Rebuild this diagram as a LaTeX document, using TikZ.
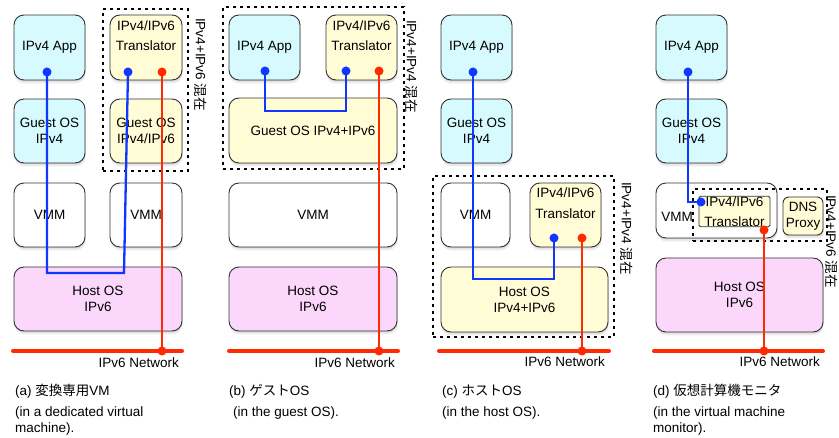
\documentclass[tikz,border=0pt]{standalone}
\usepackage{fontspec}
\setmainfont{Liberation Sans}
\newfontfamily\jp{Noto Sans CJK JP}
\usetikzlibrary{shadows}
\definecolor{cyanF}{RGB}{214,250,254}
\definecolor{yelF}{RGB}{255,252,214}
\definecolor{pinkF}{RGB}{251,215,251}
\definecolor{bl}{RGB}{17,55,255}
\definecolor{rd}{RGB}{255,42,0}
\newcommand\fs{\fontsize{13.5}{16}\selectfont}
\newcommand\fst{\fontsize{13.5}{20.5}\selectfont}
\tikzset{
  box/.style={draw=black!80, line width=0.9pt, rounded corners=10pt, align=center, inner sep=0pt, font=\fs,
    drop shadow={shadow xshift=0.5pt, shadow yshift=-3.5pt, opacity=0.15},
    drop shadow={shadow xshift=0.5pt, shadow yshift=-1.5pt, opacity=0.2}},
  cbox/.style={box, fill=cyanF},
  ybox/.style={box, fill=yelF},
  pbox/.style={box, fill=pinkF},
  wbox/.style={box, fill=white},
  trbox/.style={ybox, font=\fst},
  dashbox/.style={draw=black, line width=2pt, dash pattern=on 3pt off 4pt, inner sep=0pt},
  mixlbl/.style={rotate=-90, anchor=west, font=\fs, inner sep=0pt},
  blline/.style={draw=bl, line width=2.3pt},
  rdline/.style={draw=rd, line width=2.3pt},
  net/.style={draw=rd, line width=4pt, line cap=round},
  nettxt/.style={anchor=base east, font=\fs, inner sep=0pt},
  captxt/.style={anchor=base west, font=\fs, inner sep=0pt},
}
\begin{document}
\begin{tikzpicture}[x=1pt,y=-1pt]
\useasboundingbox (0,0) rectangle (839,438);
\fill[white] (0,0) rectangle (839,438);

% ---------- (a)
\node[cbox, minimum width=71pt, minimum height=65pt] (a-app) at (49.5,47.5) {IPv4 App};
\node[trbox, minimum width=72pt, minimum height=65pt] (a-tr) at (146,47.5) {IPv4/IPv6\\Translator\\[3pt]};
\node[cbox, minimum width=71pt, minimum height=64pt] (a-gos) at (49.5,131) {Guest OS\\IPv4};
\node[ybox, minimum width=72pt, minimum height=64pt] (a-gos2) at (146,131) {Guest OS\\IPv4/IPv6};
\node[wbox, minimum width=71pt, minimum height=64pt] (a-vmm1) at (49.5,215) {VMM};
\node[wbox, minimum width=72pt, minimum height=64pt] (a-vmm2) at (146,215) {VMM};
\node[pbox, minimum width=168pt, minimum height=64pt] (a-host) at (98,299) {Host OS\\IPv6};
\node[dashbox, minimum width=85pt, minimum height=162pt] (a-mix) at (145.5,90) {};
\node[mixlbl] (a-mixl) at (201,18) {IPv4+IPv6 {\jp 混在}};
\coordinate (a-n1) at (13,351);
\coordinate (a-n2) at (182,351);
\coordinate (a-appdot) at (47,72);
\coordinate (a-tbdot) at (128,72);
\coordinate (a-trdot) at (162,72);
\coordinate (a-ndot) at (162,351);
\coordinate (a-b1) at (47,273);
\coordinate (a-b2) at (124,273);
\draw[net] (a-n1) -- (a-n2);
\draw[blline] (a-appdot) -- (a-b1) -- (a-b2) -- (a-tbdot);
\draw[rdline] (a-trdot) -- (a-ndot);
\fill[bl] (a-appdot) circle (4.5pt) (a-tbdot) circle (4.5pt);
\fill[rd] (a-trdot) circle (4.5pt) (a-ndot) circle (4.5pt);
\node[nettxt] (a-nt) at (179,368) {IPv6 Network};
\node[captxt] (a-c1) at (15,396) {(a) {\jp 変換専用}VM};
\node[captxt] (a-c2) at (15,417) {(in a dedicated virtual};
\node[captxt] (a-c3) at (15,433) {machine).};

% ---------- (b)
\node[cbox, minimum width=71pt, minimum height=65pt] (b-app) at (264.5,47.5) {IPv4 App};
\node[trbox, minimum width=71pt, minimum height=65pt] (b-tr) at (361.5,47.5) {IPv4/IPv6\\Translator\\[3pt]};
\node[ybox, minimum width=168pt, minimum height=65pt] (b-gos) at (313,130.5) {Guest OS IPv4+IPv6};
\node[wbox, minimum width=168pt, minimum height=64pt] (b-vmm) at (313,215) {VMM};
\node[pbox, minimum width=168pt, minimum height=64pt] (b-host) at (313,299) {Host OS\\IPv6};
\node[dashbox, minimum width=181pt, minimum height=162pt] (b-mix) at (313.5,88) {};
\node[mixlbl] (b-mixl) at (412,20) {IPv4+IPv4 {\jp 混在}};
\coordinate (b-n1) at (229,351);
\coordinate (b-n2) at (398,351);
\coordinate (b-appdot) at (265,71);
\coordinate (b-tbdot) at (346,71);
\coordinate (b-trdot) at (379,71);
\coordinate (b-ndot) at (379,351);
\coordinate (b-b1) at (265,111);
\coordinate (b-b2) at (346,111);
\draw[net] (b-n1) -- (b-n2);
\draw[blline] (b-appdot) -- (b-b1) -- (b-b2) -- (b-tbdot);
\draw[rdline] (b-trdot) -- (b-ndot);
\fill[bl] (b-appdot) circle (4.5pt) (b-tbdot) circle (4.5pt);
\fill[rd] (b-trdot) circle (4.5pt) (b-ndot) circle (4.5pt);
\node[nettxt] (b-nt) at (395,368) {IPv6 Network};
\node[captxt] (b-c1) at (229,396) {(b) {\jp ゲスト}OS};
\node[captxt] (b-c2) at (233,417) {(in the guest OS).};

% ---------- (c)
\node[cbox, minimum width=71pt, minimum height=65pt] (c-app) at (476.5,47.5) {IPv4 App};
\node[cbox, minimum width=71pt, minimum height=64pt] (c-gos) at (476.5,131) {Guest OS\\IPv4};
\node[wbox, minimum width=69pt, minimum height=64pt] (c-vmm) at (475.5,215) {VMM};
\node[trbox, minimum width=71pt, minimum height=64pt] (c-tr) at (565.5,215) {IPv4/IPv6\\Translator\\[3pt]};
\node[ybox, minimum width=167pt, minimum height=65pt] (c-host) at (524.5,299.5) {Host OS\\IPv4+IPv6};
\node[dashbox, minimum width=181pt, minimum height=161pt] (c-mix) at (523.5,256.5) {};
\node[mixlbl] (c-mixl) at (627,182) {IPv4+IPv4 {\jp 混在}};
\coordinate (c-n1) at (439,351);
\coordinate (c-n2) at (609,351);
\coordinate (c-appdot) at (473,72);
\coordinate (c-tbdot) at (554,238);
\coordinate (c-trdot) at (582,238);
\coordinate (c-ndot) at (582,351);
\coordinate (c-b1) at (473,279);
\coordinate (c-b2) at (554,279);
\draw[net] (c-n1) -- (c-n2);
\draw[blline] (c-appdot) -- (c-b1) -- (c-b2) -- (c-tbdot);
\draw[rdline] (c-trdot) -- (c-ndot);
\fill[bl] (c-appdot) circle (4.5pt) (c-tbdot) circle (4.5pt);
\fill[rd] (c-trdot) circle (4.5pt) (c-ndot) circle (4.5pt);
\node[nettxt] (c-nt) at (605,367) {IPv6 Network};
\node[captxt] (c-c1) at (442,396) {(c) {\jp ホスト}OS};
\node[captxt] (c-c2) at (442,417) {(in the host OS).};

% ---------- (d)
\node[cbox, minimum width=71pt, minimum height=65pt] (d-app) at (691.5,47.5) {IPv4 App};
\node[cbox, minimum width=71pt, minimum height=64pt] (d-gos) at (691.5,131) {Guest OS\\IPv4};
\node[wbox, minimum width=121pt, minimum height=55pt] (d-vmm) at (716.5,210.5) {};
\node[font=\fs, inner sep=0pt] (d-vmmt) at (677,217) {VMM};
\node[draw=black!80, line width=0.9pt, fill=yelF, rounded corners=1.5pt, align=center, inner sep=0pt,
      font=\fst, minimum width=71pt, minimum height=29pt] (d-tr) at (734.5,211.5) {IPv4/IPv6\\Translator};
\node[ybox, rounded corners=6pt, minimum width=40pt, minimum height=38pt] (d-dns) at (803,216) {DNS\\Proxy};
\node[dashbox, minimum width=134pt, minimum height=52pt] (d-mix) at (760,215) {};
\node[mixlbl] (d-mixl) at (831.5,195) {IPv4+IPv6 {\jp 混在}};
\node[pbox, minimum width=167pt, minimum height=74pt] (d-host) at (739.5,295) {Host OS\\IPv6};
\coordinate (d-n1) at (654,351);
\coordinate (d-n2) at (823,351);
\coordinate (d-appdot) at (688,72);
\coordinate (d-tbdot) at (701,202);
\coordinate (d-trdot) at (764,230);
\coordinate (d-ndot) at (764,351);
\draw[net] (d-n1) -- (d-n2);
\draw[blline] (d-appdot) |- (d-tbdot);
\draw[rdline] (d-trdot) -- (d-ndot);
\fill[bl] (d-appdot) circle (4.5pt) (d-tbdot) circle (4.5pt);
\fill[rd] (d-trdot) circle (4.5pt) (d-ndot) circle (4.5pt);
\node[nettxt] (d-nt) at (820,367) {IPv6 Network};
\node[captxt] (d-c1) at (653,396) {(d) {\jp 仮想計算機モニタ}};
\node[captxt] (d-c2) at (653,417) {(in the virtual machine};
\node[captxt] (d-c3) at (653,433) {monitor).};
\end{tikzpicture}
\end{document}
